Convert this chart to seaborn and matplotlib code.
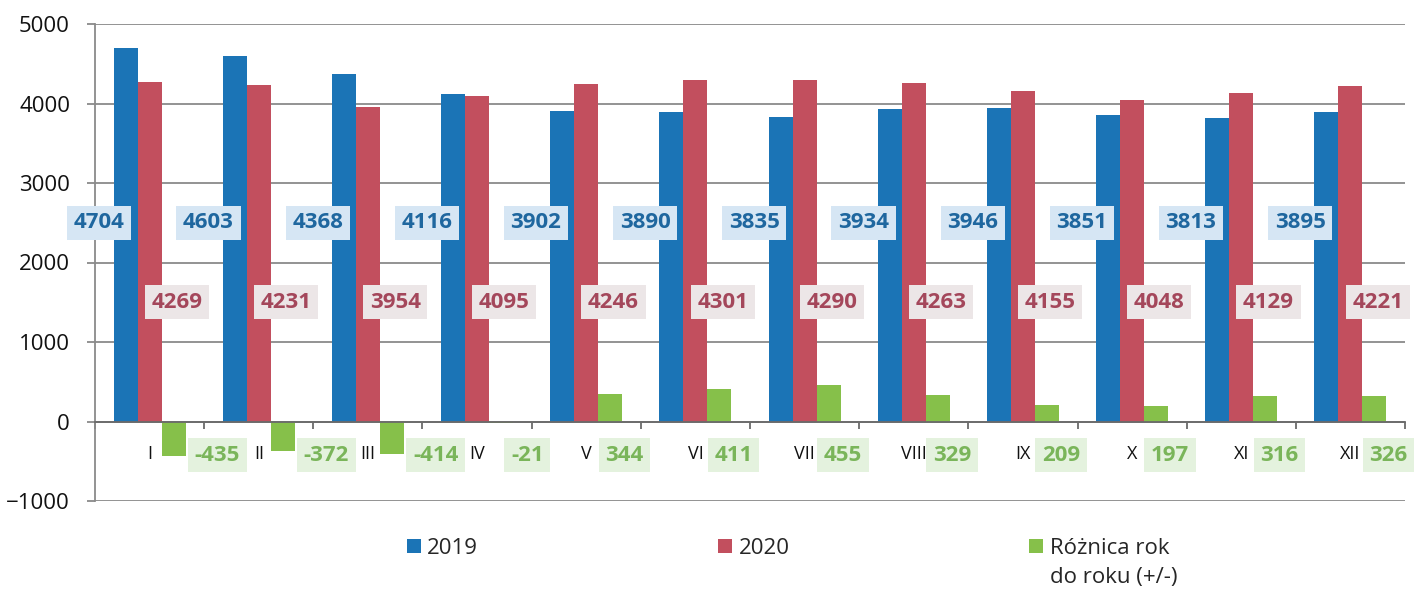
import numpy as np
import pandas as pd
import matplotlib
matplotlib.use("Agg")
import matplotlib.pyplot as plt
import seaborn as sns

# Data
months = ["I", "II", "III", "IV", "V", "VI", "VII", "VIII", "IX", "X", "XI", "XII"]
values_2019 = [4704, 4603, 4368, 4116, 3902, 3890, 3835, 3934, 3946, 3851, 3813, 3895]
values_2020 = [4269, 4231, 3954, 4095, 4246, 4301, 4290, 4263, 4155, 4048, 4129, 4221]
difference = [-435, -372, -414, -21, 344, 411, 455, 329, 209, 197, 316, 326]
series_names = ["2019", "2020", "Różnica rok"]
legend_second_line = "do roku (+/-)"

df = pd.DataFrame({
    "month": months * 3,
    "value": values_2019 + values_2020 + difference,
    "series": [series_names[0]] * 12 + [series_names[1]] * 12 + [series_names[2]] * 12,
})

sns.set_style("white")
plt.rcParams["font.family"] = ["Open Sans", "DejaVu Sans"]

bar_colors = ["#1b74b6", "#c24f5e", "#86c04a"]
box_colors = ["#d6e6f4", "#ece6e7", "#e4f2de"]
text_colors = ["#1f679f", "#a4475b", "#7ab55a"]

fig = plt.figure(figsize=(14.23, 5.89), dpi=100)
ax = fig.add_axes([95 / 1423, 1 - 501 / 589, 1310 / 1423, 477 / 589])

sns.barplot(data=df, x="month", y="value", hue="series", hue_order=series_names,
            order=months, palette=bar_colors, width=0.66, saturation=1,
            errorbar=None, linewidth=0, ax=ax)


def label_box(x, y, v, s):
    ax.text(x, y, str(v), ha="center", va="center", fontsize=16,
            fontweight="bold", color=text_colors[s], zorder=5,
            bbox=dict(boxstyle="square,pad=0.3", fc=box_colors[s], ec="none"))


# Value labels with light boxes
for i in range(len(months)):
    label_box(i - 0.46, 2500, values_2019[i], 0)
    label_box(i + 0.25, 1500, values_2020[i], 1)
    d = difference[i]
    dx = 0.35 if d > 0 else (0.62 if d < -100 else 0.46)
    label_box(i + dx, -425, d, 2)

ax.set_xlim(-0.5, 11.5)
ax.set_ylim(-1000, 5000)
ax.set_yticks(np.arange(-1000, 5001, 1000))
ax.yaxis.grid(True, color="#8a8a8a", linewidth=1.3)
ax.set_axisbelow(True)
ax.tick_params(axis="y", left=True, length=6, width=1.3, color="#8a8a8a",
               labelsize=16, pad=12, labelcolor="#111111")

# x axis drawn on the zero line, month names below it
ax.spines["bottom"].set_position(("data", 0))
ax.spines["bottom"].set_color("#6a6a6a")
ax.spines["bottom"].set_linewidth(1.3)
ax.set_xticks(np.arange(-0.5, 12, 1))
ax.set_xticklabels([])
ax.set_xticks(np.arange(12), minor=True)
ax.set_xticklabels(months, minor=True)
ax.tick_params(axis="x", which="major", bottom=True, length=5, width=1.3,
               color="#6a6a6a", direction="out")
ax.tick_params(axis="x", which="minor", bottom=True, length=0, pad=17,
               labelsize=13, labelcolor="#111111")
ax.spines["left"].set_color("#8a8a8a")
ax.spines["left"].set_linewidth(1.3)
ax.spines["top"].set_visible(False)
ax.spines["right"].set_visible(False)
ax.set_xlabel("")
ax.set_ylabel("")

# Legend below the plot
handles = ax.get_legend().legend_handles
ax.get_legend().remove()
leg = ax.legend(handles, series_names, loc="upper left",
                bbox_to_anchor=((407 - 95) / 1310, -0.077), ncol=3, frameon=False,
                fontsize=16, handlelength=0.63, handleheight=0.63, handletextpad=0.28,
                columnspacing=10.8, borderpad=0, borderaxespad=0)
ax.annotate(legend_second_line, xy=(0, 0.5), xycoords=leg.get_texts()[2],
            xytext=(0, -21), textcoords="offset points", ha="left", va="center",
            fontsize=16, annotation_clip=False, zorder=10)

fig.canvas.draw()
fig.savefig("out.png", dpi=100, facecolor="white")
